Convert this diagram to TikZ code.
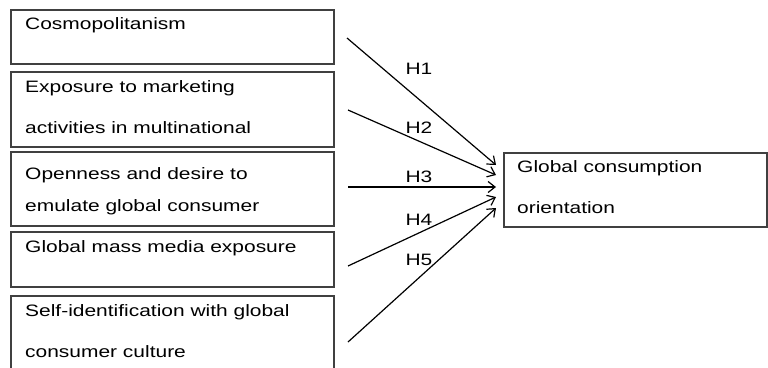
\documentclass[tikz,border=0pt]{standalone}
\usepackage{fontspec}
\newfontfamily\hfont[FakeStretch=1.27]{Liberation Sans}
\usetikzlibrary{arrows.meta}
\begin{document}
\begin{tikzpicture}[x=1pt,y=-1pt,
  box/.style={draw=black!75,line width=1.3pt,inner sep=0pt},
  lbl/.style={anchor=west,inner sep=0pt,font=\hfont\fontsize{16.5}{20}\selectfont},
  hl/.style={inner sep=0pt,font=\hfont\fontsize{16.5}{20}\selectfont},
  arr/.style={line width=1.2pt,-{Straight Barb[length=7pt,width=11pt,line width=1.2pt]}}]
\clip (0,0) rectangle (768,367);
\useasboundingbox (0,0) rectangle (768,367);
% boxes
\node[box,minimum width=323pt,minimum height=54pt] (b1) at (172.5,37) {};
\node[box,minimum width=323pt,minimum height=75pt] (b2) at (172.5,109.5) {};
\node[box,minimum width=323pt,minimum height=74pt] (b3) at (172.5,189) {};
\node[box,minimum width=323pt,minimum height=55pt] (b4) at (172.5,259.5) {};
\node[box,minimum width=323pt,minimum height=90pt] (b5) at (172.5,341) {};
\node[box,minimum width=263pt,minimum height=74pt] (t) at (635.5,190) {};
% texts
\node[lbl] (l1) at (25,25) {Cosmopolitanism};
\node[lbl] (l2a) at (25,88) {Exposure to marketing};
\node[lbl] (l2b) at (25,128) {activities in multinational};
\node[lbl] (l3a) at (25,175) {Openness and desire to};
\node[lbl] (l3b) at (25,207) {emulate global consumer};
\node[lbl] (l4) at (25,248) {Global mass media exposure};
\node[lbl] (l5a) at (25,312) {Self-identification with global};
\node[lbl] (l5b) at (25,352) {consumer culture};
\node[lbl] (ta) at (517,168) {Global consumption};
\node[lbl] (tb) at (517,208) {orientation};
% arrow ends
\coordinate (s1) at (347,38);
\coordinate (s2) at (348,110);
\coordinate (s3) at (348,187);
\coordinate (s4) at (348,266);
\coordinate (s5) at (348,342);
\coordinate (e1) at (496,165);
\coordinate (e2) at (496,175);
\coordinate (e3) at (496,187);
\coordinate (e4) at (496,197);
\coordinate (e5) at (496,208);
\draw[arr] (s1) -- (e1);
\draw[arr] (s2) -- (e2);
\draw[arr] (s3) -- (e3);
\draw[arr] (s4) -- (e4);
\draw[arr] (s5) -- (e5);
% labels
\node[hl] (h1) at (419,69) {H1};
\node[hl] (h2) at (419,128) {H2};
\node[hl] (h3) at (419,177) {H3};
\node[hl] (h4) at (419,220) {H4};
\node[hl] (h5) at (419,260) {H5};
\end{tikzpicture}
\end{document}
